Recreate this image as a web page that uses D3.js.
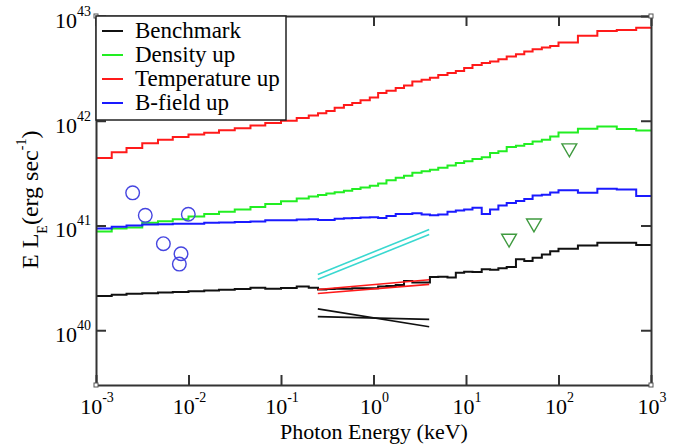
<!DOCTYPE html>
<html><head><meta charset="utf-8">
<script src="https://cdn.jsdelivr.net/npm/d3@7"></script>
<style>
html,body{margin:0;padding:0;background:#fff;}
</style></head><body>
<svg id="chart" width="694" height="447" font-family="'Liberation Serif', 'DejaVu Serif', serif"></svg>
<script>
// Energy bin edges, log10(keV)
const binEdgesLog = [-3.00, -2.83, -2.67, -2.50, -2.33, -2.17, -2.00, -1.83, -1.67, -1.50, -1.33, -1.17, -1.00, -0.83,
  -0.70, -0.60, -0.51, -0.42, -0.32, -0.23, -0.14, -0.04, 0.05, 0.14, 0.24, 0.33, 0.42, 0.52, 0.61, 0.70,
  0.80, 0.89, 0.98, 1.07, 1.17, 1.26, 1.35, 1.44, 1.54, 1.63, 1.72, 1.82, 1.91, 2.00,
  2.21, 2.42, 2.63, 2.84, 3.00];

// E L_E per bin (erg/s)
const benchmark = [2.12e40, 2.18e40, 2.23e40, 2.25e40, 2.29e40, 2.32e40, 2.35e40, 2.40e40, 2.44e40, 2.48e40,
  2.55e40, 2.49e40, 2.53e40, 2.61e40, 2.54e40, 2.45e40, 2.48e40, 2.49e40, 2.49e40, 2.51e40,
  2.51e40, 2.52e40, 2.61e40, 2.65e40, 2.70e40, 2.95e40, 2.85e40, 2.85e40, 3.22e40, 3.24e40,
  3.18e40, 3.53e40, 3.61e40, 3.59e40, 3.83e40, 3.77e40, 3.91e40, 4.01e40, 4.75e40, 4.57e40,
  4.92e40, 5.29e40, 5.69e40, 6.00e40, 6.45e40, 6.84e40, 6.84e40, 6.52e40];
const densityUp = [8.77e40, 9.36e40, 9.57e40, 1.06e41, 1.10e41, 1.15e41, 1.22e41, 1.29e41, 1.35e41, 1.42e41,
  1.50e41, 1.60e41, 1.70e41, 1.81e41, 1.89e41, 1.95e41, 2.02e41, 2.08e41, 2.15e41, 2.23e41,
  2.30e41, 2.40e41, 2.51e41, 2.70e41, 2.85e41, 2.99e41, 3.18e41, 3.29e41, 3.41e41, 3.55e41,
  3.73e41, 3.95e41, 4.10e41, 4.32e41, 4.47e41, 4.92e41, 5.10e41, 5.62e41, 5.78e41, 6.00e41,
  6.35e41, 6.59e41, 7.08e41, 7.74e41, 8.39e41, 8.83e41, 8.34e41, 8.09e41];
const temperatureUp = [4.4e41, 5.0e41, 5.5e41, 6.1e41, 6.6e41, 7.0e41, 7.4e41, 7.7e41, 8.1e41, 8.5e41,
  9.0e41, 9.5e41, 1.0e42, 1.06e42, 1.12e42, 1.18e42, 1.24e42, 1.33e42, 1.41e42, 1.48e42,
  1.57e42, 1.67e42, 1.84e42, 1.93e42, 2.05e42, 2.17e42, 2.37e42, 2.46e42, 2.58e42, 2.74e42,
  2.85e42, 2.99e42, 3.18e42, 3.41e42, 3.55e42, 3.67e42, 3.87e42, 4.10e42, 4.32e42, 4.57e42,
  4.82e42, 4.99e42, 5.18e42, 5.57e42, 6.49e42, 7.19e42, 7.36e42, 7.74e42];
const bFieldUp = [9.36e40, 9.72e40, 1.00e41, 1.02e41, 1.03e41, 1.04e41, 1.04e41, 1.06e41, 1.07e41, 1.08e41,
  1.09e41, 1.12e41, 1.12e41, 1.14e41, 1.15e41, 1.13e41, 1.13e41, 1.16e41, 1.17e41, 1.18e41,
  1.19e41, 1.20e41, 1.18e41, 1.23e41, 1.29e41, 1.29e41, 1.31e41, 1.27e41, 1.25e41, 1.27e41,
  1.35e41, 1.39e41, 1.42e41, 1.48e41, 1.29e41, 1.42e41, 1.55e41, 1.64e41, 1.71e41, 1.79e41,
  1.93e41, 1.97e41, 2.06e41, 2.17e41, 2.05e41, 2.24e41, 2.20e41, 1.91e41];

// Power-law fits over 0.25-4 keV: [L at 0.25 keV, L at 4 keV]
const fitEnergies = [0.25, 4.0];
const cyanFitA = [3.41e40, 9.16e40];
const cyanFitB = [3.06e40, 8.20e40];
const redFitA = [2.24e40, 2.74e40];
const redFitB = [2.45e40, 3.03e40];
const blackFitA = [1.60e40, 1.08e40];
const blackFitB = [1.35e40, 1.27e40];

// Low-energy observed points (circles)
const circleE = [0.00249, 0.00341, 0.00995, 0.00535, 0.0083, 0.00796];
const circleL = [2.05e41, 1.25e41, 1.28e41, 6.70e40, 5.37e40, 4.28e40];
// Hard X-ray upper limits (triangles)
const triE = [131, 54.3, 29.2];
const triL = [5.47e41, 1.05e41, 7.52e40];

const xTickExps = [-3, -2, -1, 0, 1, 2, 3];
const yTickExps = [40, 41, 42, 43];

const legendNames = ["Benchmark", "Density up", "Temperature up", "B-field up"];
const legendColors = ["#111111", "#22ee22", "#ff1a1a", "#1a1aff"];

const FONT = "'Liberation Serif', 'DejaVu Serif', serif";
const svg = d3.select("#chart");
const x = d3.scaleLog().domain([1e-3, 1e3]).range([96, 651]);
const y = d3.scaleLog().domain([3e39, 1e43]).range([385, 16]);

function stepPoints(vals) {
  const pts = vals.map((v, i) => [Math.pow(10, binEdgesLog[i]), v]);
  pts.push([Math.pow(10, binEdgesLog[vals.length]), vals[vals.length - 1]]);
  return pts;
}
const stepLine = d3.line().x(d => x(d[0])).y(d => y(d[1])).curve(d3.curveStepAfter);
const straight = d3.line().x(d => x(d[0])).y(d => y(d[1]));

svg.append("clipPath").attr("id", "pc").append("rect")
  .attr("x", 96).attr("y", 16).attr("width", 555).attr("height", 369);
const plot = svg.append("g").attr("clip-path", "url(#pc)");

[benchmark, densityUp, temperatureUp, bFieldUp].forEach((vals, i) => {
  plot.append("path").datum(stepPoints(vals)).attr("d", stepLine)
    .attr("fill", "none").attr("stroke", legendColors[i]).attr("stroke-width", 2);
});

const fits = [[cyanFitA, "#3ad8d0"], [cyanFitB, "#3ad8d0"], [redFitA, "#ff1a1a"], [redFitB, "#ff1a1a"],
  [blackFitA, "#111111"], [blackFitB, "#111111"]];
fits.forEach(([vals, col]) => {
  plot.append("path").datum(fitEnergies.map((e, i) => [e, vals[i]])).attr("d", straight)
    .attr("fill", "none").attr("stroke", col).attr("stroke-width", 1.6);
});

plot.selectAll("circle.obs").data(circleE.map((e, i) => [e, circleL[i]])).join("circle")
  .attr("class", "obs").attr("cx", d => x(d[0])).attr("cy", d => y(d[1])).attr("r", 6.8)
  .attr("fill", "none").attr("stroke", "#4545e0").attr("stroke-width", 1.4);

const triSym = d3.symbol().type(d3.symbolTriangle).size(95);
plot.selectAll("path.lim").data(triE.map((e, i) => [e, triL[i]])).join("path")
  .attr("class", "lim").attr("d", triSym)
  .attr("transform", d => `translate(${x(d[0])},${y(d[1])}) rotate(180)`)
  .attr("fill", "none").attr("stroke", "#3f9a3f").attr("stroke-width", 1.4);

// Frame with inward ticks on all four sides
const xTicks = xTickExps.map(e => Math.pow(10, e));
const yTicks = yTickExps.map(e => Math.pow(10, e));
const axes = svg.append("g");
axes.append("g").attr("transform", "translate(0,385)")
  .call(d3.axisBottom(x).tickValues(xTicks).tickSize(-10).tickSizeOuter(0).tickFormat(""));
axes.append("g").attr("transform", "translate(0,16)")
  .call(d3.axisTop(x).tickValues(xTicks).tickSize(-10).tickSizeOuter(0).tickFormat(""));
axes.append("g").attr("transform", "translate(96,0)")
  .call(d3.axisLeft(y).tickValues(yTicks).tickSize(-10).tickSizeOuter(0).tickFormat(""));
axes.append("g").attr("transform", "translate(651,0)")
  .call(d3.axisRight(y).tickValues(yTicks).tickSize(-10).tickSizeOuter(0).tickFormat(""));
axes.selectAll(".domain").attr("stroke", "#333").attr("stroke-width", 2);
axes.selectAll(".tick line").attr("stroke", "#333").attr("stroke-width", 2);

// small corner markers
[[96, 385], [651, 385], [96, 16], [651, 16]].forEach(([cx, cy]) => {
  svg.append("rect").attr("x", cx - 2).attr("y", cy - 2).attr("width", 4).attr("height", 4)
    .attr("fill", "#fff").attr("stroke", "#555").attr("stroke-width", 1);
});

// Tick labels
const xl = svg.selectAll("text.xl").data(xTickExps).join("text").attr("class", "xl")
  .attr("font-family", FONT)
  .attr("x", d => x(Math.pow(10, d)) + 1).attr("y", 414).attr("text-anchor", "middle")
  .attr("font-size", 22).text("10");
xl.append("tspan").attr("dy", -12).attr("font-size", 14).text(d => d);

const yl = svg.selectAll("text.yl").data(yTickExps).join("text").attr("class", "yl")
  .attr("font-family", FONT)
  .attr("x", 91).attr("y", d => y(Math.pow(10, d)) + 12).attr("text-anchor", "end")
  .attr("font-size", 22).text("10");
yl.append("tspan").attr("dy", -12).attr("font-size", 14).text(d => d);

// Axis titles
svg.append("text").attr("font-family", FONT).attr("x", 374).attr("y", 439).attr("text-anchor", "middle")
  .attr("font-size", 22).text("Photon Energy (keV)");
const yt = svg.append("text").attr("font-family", FONT)
  .attr("transform", "translate(37.5,269) rotate(-90)").attr("font-size", 24);
yt.append("tspan").text("E L");
yt.append("tspan").attr("dy", 9).attr("font-size", 14).text("E");
yt.append("tspan").attr("dy", -9).text("(erg sec");
yt.append("tspan").attr("dy", -12).attr("font-size", 14).text("-1");
yt.append("tspan").attr("dy", 12).text(")");

// Legend
const lg = svg.append("g");
lg.append("rect").attr("x", 96).attr("y", 16).attr("width", 190).attr("height", 104)
  .attr("fill", "#fff").attr("stroke", "#222").attr("stroke-width", 1.5);
legendNames.forEach((name, i) => {
  const ly = 31 + i * 24;
  lg.append("line").attr("x1", 102).attr("x2", 123).attr("y1", ly).attr("y2", ly)
    .attr("stroke", legendColors[i]).attr("stroke-width", 2);
  lg.append("text").attr("font-family", FONT).attr("x", 135).attr("y", ly + 7)
    .attr("font-size", 23).text(name);
});
</script></body></html>
